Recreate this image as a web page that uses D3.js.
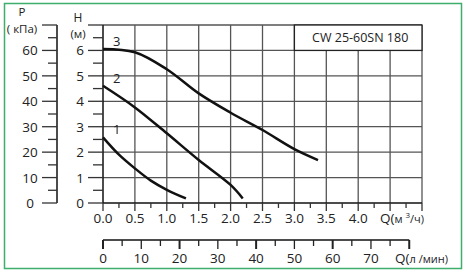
<!DOCTYPE html>
<html>
<head>
<meta charset="utf-8">
<script src="https://cdn.jsdelivr.net/npm/d3@7"></script>
<style>
  body { margin: 0; background: #fff; }
  svg text { font-family: "Open Sans", sans-serif; fill: #222; }
</style>
</head>
<body>
<div id="chart"></div>
<script>
// Pump curves, Q in m3/h, H in m
const curve1Q = [0, 0.25, 0.5, 0.75, 1.0, 1.3];
const curve1H = [2.58, 1.9, 1.36, 0.88, 0.52, 0.18];
const curve2Q = [0, 0.5, 1.0, 1.5, 2.0, 2.19];
const curve2H = [4.61, 3.76, 2.74, 1.69, 0.71, 0.18];
const curve3Q = [0, 0.5, 1.0, 1.5, 2.0, 2.5, 3.0, 3.37];
const curve3H = [6.06, 5.93, 5.26, 4.31, 3.55, 2.87, 2.12, 1.69];
const curveNames = ["1", "2", "3"];

const qTicks = [0, 0.5, 1.0, 1.5, 2.0, 2.5, 3.0, 3.5, 4.0];
const lpmTicks = [0, 10, 20, 30, 40, 50, 60, 70];
const hTicks = [0, 1, 2, 3, 4, 5, 6];
const pTicks = [0, 10, 20, 30, 40, 50, 60];
const title = "CW 25-60SN 180";

const width = 465, height = 273;
const svg = d3.select("#chart").append("svg")
    .attr("width", width)
    .attr("height", height);

// outer green frame
svg.append("rect")
    .attr("x", 4.5).attr("y", 3.5)
    .attr("width", 457).attr("height", 265)
    .attr("fill", "none")
    .attr("stroke", "#3dae6c")
    .attr("stroke-width", 1.5);

const x = d3.scaleLinear().domain([0, 5]).range([103, 422]);
const y = d3.scaleLinear().domain([0, 7]).range([203, 25]);
const yP = d3.scaleLinear().domain([0, 70]).range([203, 25]);
const xL = d3.scaleLinear().domain([0, 5 / 0.06]).range([103, 422]);

// grid
const grid = svg.append("g").attr("stroke", "#555").attr("stroke-width", 1.3);
grid.selectAll(".gv").data(d3.range(0.5, 5.01, 0.5)).enter().append("line")
    .attr("x1", d => x(d)).attr("x2", d => x(d))
    .attr("y1", y(0)).attr("y2", y(7));
grid.selectAll(".gh").data(d3.range(1, 7.01, 1)).enter().append("line")
    .attr("x1", x(0)).attr("x2", x(5))
    .attr("y1", d => y(d)).attr("y2", d => y(d));

// title box
svg.append("rect")
    .attr("x", x(3)).attr("y", y(7))
    .attr("width", x(5) - x(3)).attr("height", y(6) - y(7))
    .attr("fill", "#fff").attr("stroke", "#222").attr("stroke-width", 1.3);
svg.append("text")
    .attr("x", (x(3) + x(5)) / 2 + 2).attr("y", y(6.5) + 4.5)
    .attr("text-anchor", "middle")
    .style("font-size", "12.5px")
    .text(title);

// H axis
const hAxis = svg.append("g");
hAxis.append("line").attr("x1", x(0)).attr("x2", x(0))
    .attr("y1", y(0)).attr("y2", y(7)).attr("stroke", "#111").attr("stroke-width", 1.5);
hAxis.selectAll(".t").data(d3.range(0, 7.01, 0.5)).enter().append("line")
    .attr("x1", d => d % 1 === 0 ? 88 : 93).attr("x2", x(0))
    .attr("y1", d => y(d)).attr("y2", d => y(d))
    .attr("stroke", "#333").attr("stroke-width", 1.3);
hAxis.selectAll(".l").data(hTicks).enter().append("text")
    .attr("x", 80).attr("y", d => y(d) + 5)
    .attr("text-anchor", "middle")
    .style("font-size", "13.5px")
    .text(d => d);
svg.append("text").attr("x", 78).attr("y", 22).attr("text-anchor", "middle")
    .style("font-size", "12px").text("H");
svg.append("text").attr("x", 78).attr("y", 38).attr("text-anchor", "middle")
    .style("font-size", "11.5px").text("(м)");

// P axis
const pAxis = svg.append("g");
pAxis.append("line").attr("x1", 57).attr("x2", 57)
    .attr("y1", yP(0)).attr("y2", yP(70)).attr("stroke", "#111").attr("stroke-width", 1.5);
pAxis.selectAll(".t").data(d3.range(0, 70.1, 5)).enter().append("line")
    .attr("x1", d => d % 10 === 0 ? 42 : 48).attr("x2", 57)
    .attr("y1", d => yP(d)).attr("y2", d => yP(d))
    .attr("stroke", "#333").attr("stroke-width", 1.3);
pAxis.selectAll(".l").data(pTicks).enter().append("text")
    .attr("x", 30).attr("y", d => yP(d) + 5)
    .attr("text-anchor", "middle")
    .style("font-size", "13.5px")
    .text(d => d);
svg.append("text").attr("x", 22).attr("y", 16).attr("text-anchor", "middle")
    .style("font-size", "11.5px").text("P");
svg.append("text").attr("x", 22).attr("y", 33).attr("text-anchor", "middle")
    .style("font-size", "11.5px").text("( кПа)");

// Q m3/h axis
const qAxis = svg.append("g");
qAxis.append("line").attr("x1", x(0)).attr("x2", x(5))
    .attr("y1", y(0)).attr("y2", y(0)).attr("stroke", "#111").attr("stroke-width", 1.5);
qAxis.selectAll(".t").data(d3.range(0, 5.01, 0.25)).enter().append("line")
    .attr("x1", d => x(d)).attr("x2", d => x(d))
    .attr("y1", y(0)).attr("y2", d => y(0) + (d % 0.5 === 0 ? 8 : 5))
    .attr("stroke", "#333").attr("stroke-width", 1.3);
qAxis.selectAll(".l").data(qTicks).enter().append("text")
    .attr("x", d => x(d)).attr("y", 223)
    .attr("text-anchor", "middle")
    .style("font-size", "13.5px")
    .text(d => d.toFixed(1));
const qLab = svg.append("text").attr("x", 380).attr("y", 223).style("font-size", "13.5px");
qLab.append("tspan").text("Q(");
qLab.append("tspan").style("font-size", "11px").text("м ");
qLab.append("tspan").style("font-size", "8px").attr("dy", -5).text("3");
qLab.append("tspan").style("font-size", "11px").attr("dy", 5).text("/ч)");

// Q l/min axis
const lAxis = svg.append("g");
lAxis.append("line").attr("x1", xL(0)).attr("x2", xL(80))
    .attr("y1", 240).attr("y2", 240).attr("stroke", "#111").attr("stroke-width", 1.5);
lAxis.selectAll(".t").data(d3.range(0, 80.1, 5)).enter().append("line")
    .attr("x1", d => xL(d)).attr("x2", d => xL(d))
    .attr("y1", 240).attr("y2", d => 240 + (d % 10 === 0 ? 9 : 6))
    .attr("stroke", "#222").attr("stroke-width", d => d % 20 === 0 ? 2 : 1.3);
lAxis.selectAll(".l").data(lpmTicks).enter().append("text")
    .attr("x", d => xL(d)).attr("y", 263)
    .attr("text-anchor", "middle")
    .style("font-size", "13.5px")
    .text(d => d);
const lLab = svg.append("text").attr("x", 395).attr("y", 263).style("font-size", "13.5px");
lLab.append("tspan").text("Q(");
lLab.append("tspan").style("font-size", "11px").text("л /мин)");

// curves
const curves = [
    curve1Q.map((q, i) => [q, curve1H[i]]),
    curve2Q.map((q, i) => [q, curve2H[i]]),
    curve3Q.map((q, i) => [q, curve3H[i]])
];
const line = d3.line()
    .x(d => x(d[0]))
    .y(d => y(d[1]))
    .curve(d3.curveCatmullRom.alpha(0.5));
svg.selectAll(".curve").data(curves).enter().append("path")
    .attr("d", line)
    .attr("fill", "none")
    .attr("stroke", "#111")
    .attr("stroke-width", 2.5);
svg.selectAll(".cname").data(curves).enter().append("text")
    .attr("x", d => x(d[0][0]) + 10)
    .attr("y", d => y(d[0][1]) - 3)
    .style("font-size", "13px")
    .text((d, i) => curveNames[i]);
</script>
</body>
</html>
